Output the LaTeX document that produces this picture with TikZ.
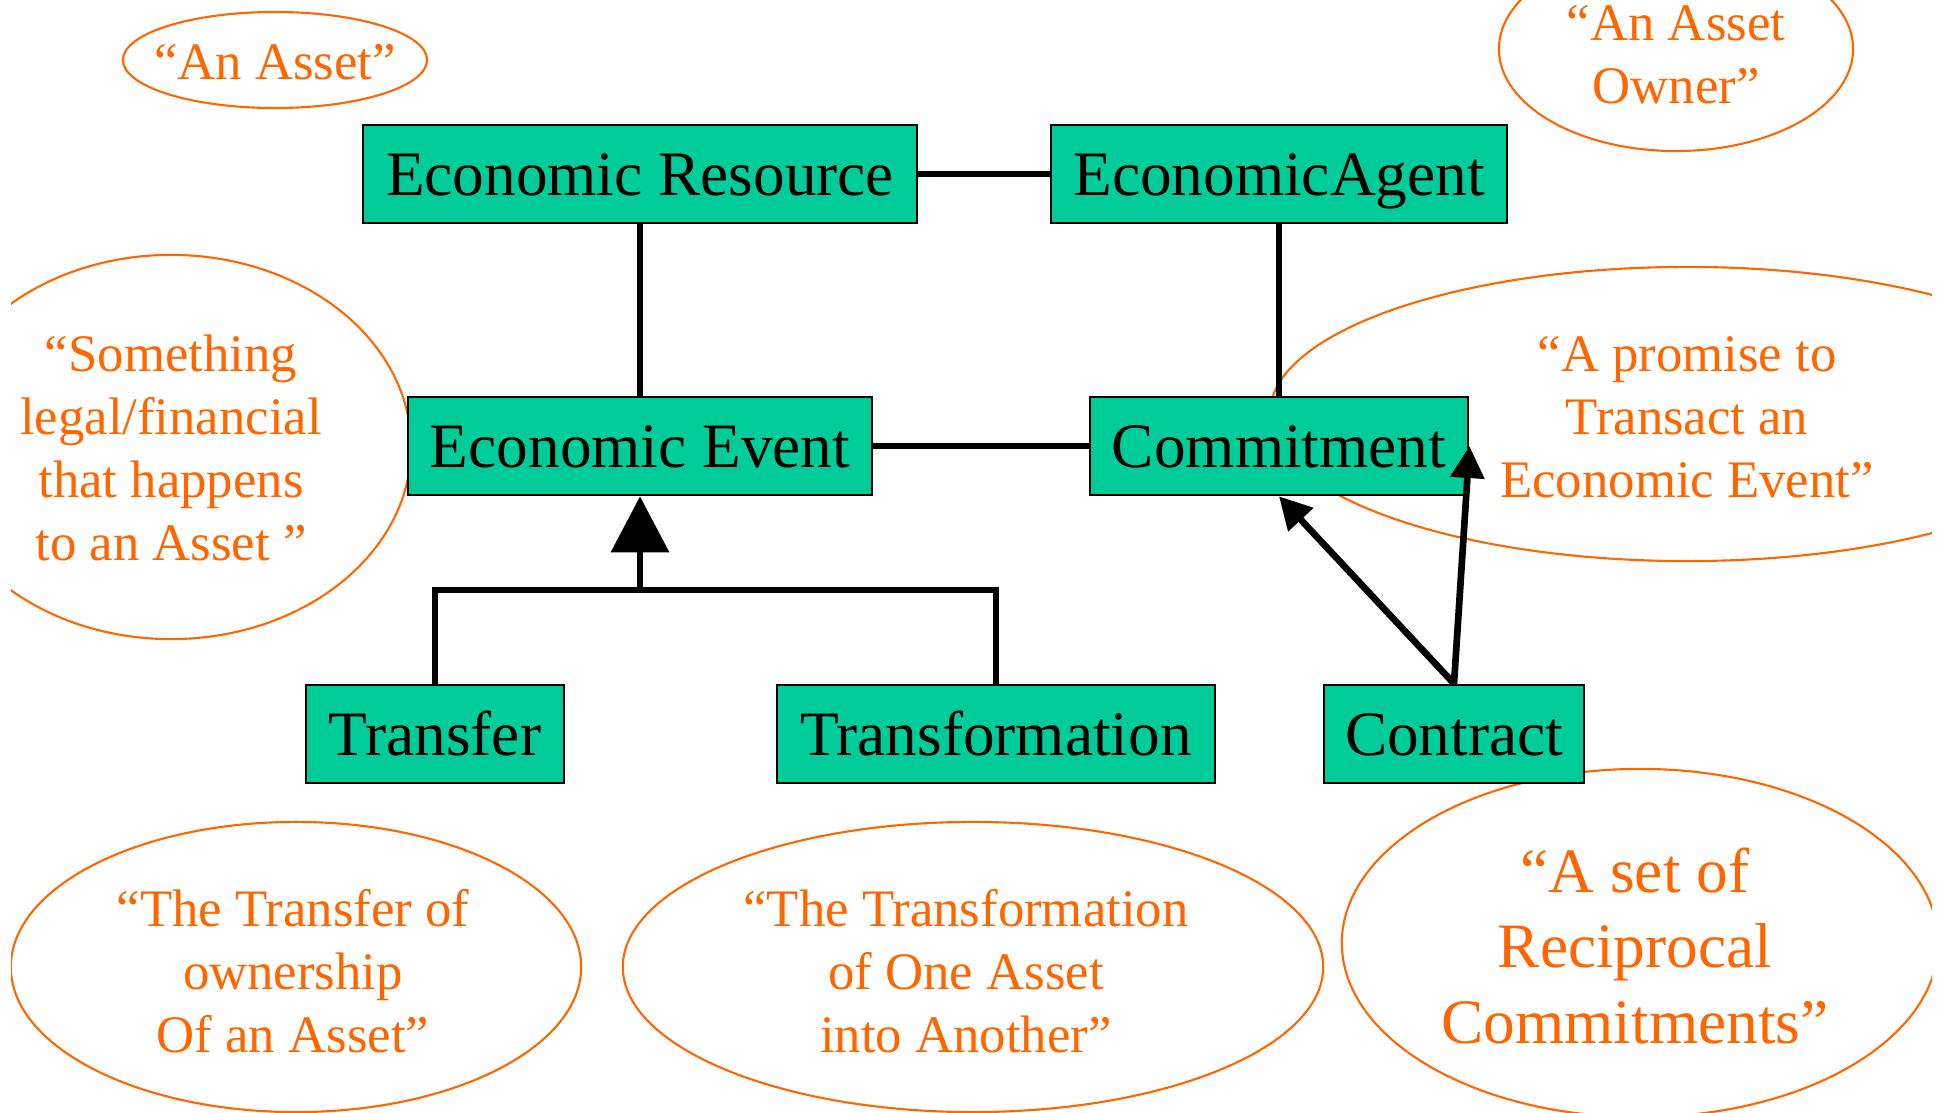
\documentclass[tikz,border=0pt]{standalone}
\usepackage{fontspec}
\setmainfont{Liberation Serif}
\usetikzlibrary{arrows.meta}

\definecolor{boxgreen}{RGB}{0,204,153}
\definecolor{noteorange}{RGB}{255,102,0}

\tikzset{
  cls/.style={draw, fill=boxgreen, line width=0.75pt, minimum height=0.98cm,
    inner sep=0pt, text height=12.3pt, text depth=0.2pt, font=\fontsize{18}{21}\selectfont},
  link/.style={line width=1.9pt},
  note/.style={draw=noteorange, line width=0.6pt},
  notetext/.style={text=noteorange, align=center, font=\fontsize{15}{18}\selectfont}
}

\begin{document}
\begin{tikzpicture}[x=0.01cm, y=-0.01cm]
\useasboundingbox (0,0) rectangle (1942,1113);

\begin{scope}
\clip (11,0) rectangle (1932,1113);
\draw[note] (275,60)   ellipse [x radius=1.52cm, y radius=0.48cm];
\draw[note] (1676,49)  ellipse [x radius=1.77cm, y radius=1.02cm];
\draw[note] (171,447)  ellipse [x radius=2.40cm, y radius=1.92cm];
\draw[note] (1687,414) ellipse [x radius=4.17cm, y radius=1.47cm];
\draw[note] (296,967)  ellipse [x radius=2.85cm, y radius=1.45cm];
\draw[note] (973,967)  ellipse [x radius=3.50cm, y radius=1.45cm];
\draw[note] (1640,943) ellipse [x radius=2.98cm, y radius=1.74cm];
\end{scope}

\node[notetext] (asset)    at (275,62)   {“An Asset”};
\node[notetext] (owner)    at (1676,55)  {“An Asset\\Owner”};
\node[notetext] (happens)  at (171,448)  {“Something\\legal/financial\\that happens\\to an Asset ”};
\node[notetext] (promise)  at (1687,417) {“A promise to\\Transact an\\Economic Event”};
\node[notetext] (transown) at (293,971)  {“The Transfer of\\ownership\\Of an Asset”};
\node[notetext] (another)  at (966,971)  {“The Transformation\\of One Asset\\into Another”};
\node[notetext, font=\fontsize{18}{21.6}\selectfont] (recip) at (1635,946) {“A set of\\Reciprocal\\Commitments”};

\node[cls, minimum width=5.54cm] (res)       at (640,174)  {Economic Resource};
\node[cls, minimum width=4.56cm] (agent)     at (1279,174) {EconomicAgent};
\node[cls, minimum width=4.64cm] (event)     at (640,446)  {Economic Event};
\node[cls, minimum width=3.78cm] (commit)    at (1279,446) {Commitment};
\node[cls, minimum width=2.58cm] (transfer)  at (435,734)  {Transfer};
\node[cls, minimum width=4.38cm] (transform) at (996,734)  {Transformation};
\node[cls, minimum width=2.60cm] (contract)  at (1454,734) {Contract};

\coordinate (join) at (640,590);

\draw[link] (res) -- (agent);
\draw[link] (res) -- (event);
\draw[link] (agent) -- (commit);
\draw[link] (event) -- (commit);
\draw[link] (transfer.north) |- (join) -| (transform.north);
\draw[link, -{Triangle[width=0.57cm, length=0.56cm]}] (join) -- (event.south);
\draw[link, -{Triangle[width=0.33cm, length=0.32cm]}] (contract.north) -- (commit.south);
\draw[link, -{Triangle[width=0.33cm, length=0.32cm]}] (contract.north) -- (commit.east);
\end{tikzpicture}
\end{document}
